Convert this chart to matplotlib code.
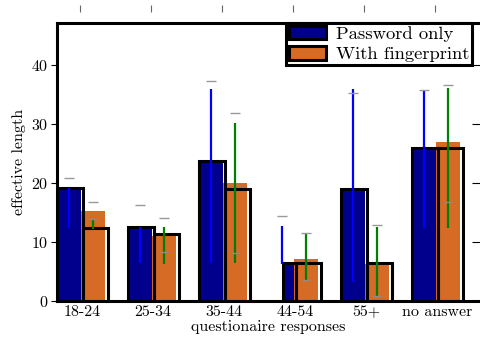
import numpy as np
import matplotlib
matplotlib.use('Agg')
import matplotlib.pyplot as plt
from matplotlib.patches import Patch
from matplotlib import markers

plt.rcParams['font.family'] = ['cmr10', 'DejaVu Serif']
plt.rcParams['axes.formatter.use_mathtext'] = True

# data
categories = ['18-24', '25-34', '35-44', '44-54', '55+', 'no answer']
pw_mean = [19.2, 12.5, 23.8, 6.3, 19.1, 26.0]
pw_median = [19.2, 12.5, 23.8, 6.4, 19.0, 26.0]
fp_mean = [15.3, 11.0, 20.0, 7.1, 6.2, 27.0]
fp_median = [12.4, 11.3, 19.0, 6.4, 6.4, 26.0]
pw_lo = [12.4, 6.4, 6.4, 6.3, 3.2, 12.4]
pw_hi = [19.2, 12.5, 35.9, 12.7, 35.9, 35.8]
pw_cap = [20.8, 16.2, 37.3, 14.4, 35.3, 35.8]
fp_lo = [12.2, 6.3, 6.4, 3.4, 0.7, 12.4]
fp_hi = [13.7, 12.5, 30.2, 11.4, 12.6, 36.1]
fp_cap = [16.8, 14.1, 31.8, 11.6, 12.8, 36.6]
fp_mark = [13.9, 8.3, 8.1, 3.6, 0.9, 16.8]

navy = '#00008c'
orange = '#d66b25'

x = np.arange(len(categories))
w_fill = 0.34
w_out = 0.36
# the blue bar of the 44-54 group is only half drawn
pw_frac = np.array([1, 1, 1, 0.5, 1, 1])

fig = plt.figure(figsize=(4.8, 3.4), dpi=100)
ax = fig.add_axes([57/480, 1 - 301/340, (480 - 57)/480, (301 - 23)/340])

ax.bar(x + w_fill*(1 - pw_frac), pw_mean, w_fill*pw_frac, align='edge',
       color=navy, zorder=1)
ax.bar(x + w_fill, fp_mean, w_fill, align='edge', color=orange, zorder=1)
ax.bar(x + w_out*(1 - pw_frac), pw_median, w_out*pw_frac, align='edge',
       facecolor='none', edgecolor='black', lw=2.2, zorder=2)
ax.bar(x + w_out, fp_median, w_out, align='edge',
       facecolor='none', edgecolor='black', lw=2.2, zorder=2)

xc1 = x + w_fill/2
xc2 = x + w_fill*1.5
ax.vlines(xc1, pw_lo, pw_hi, color='#0000ff', lw=1.6, zorder=3)
ax.vlines(xc2, fp_lo, fp_hi, color='#008000', lw=1.6, zorder=3)
ax.plot(xc1, pw_cap, ls='none', marker='_', ms=7, mew=1, color='0.6', zorder=3)
ax.plot(xc2, fp_cap, ls='none', marker='_', ms=7, mew=1, color='0.6', zorder=3)
ax.plot(xc2, fp_mark, ls='none', marker='_', ms=6, mew=1, color='0.55', zorder=4)

ax.set_xlim(0, (480 - 57)/71)
ax.set_ylim(0, 47.1)
ax.set_xticks(x + 0.35)
ax.set_xticklabels(categories, fontsize=11.5)
ax.set_yticks([0, 10, 20, 30, 40])
ax.tick_params(axis='y', labelsize=11.5, direction='out', length=4, width=0.8,
               right=True, pad=2)
ax.tick_params(axis='x', length=0, pad=3)
# right-hand ticks point inward, drawn faint
for t in ax.yaxis.get_major_ticks():
    t.tick2line.set_marker(markers.TICKLEFT)
    t.tick2line.set_markersize(6)
    t.tick2line.set_color('0.45')
ax.set_xlabel('questionaire responses', fontsize=11.5, labelpad=1)
ax.set_ylabel('effective length', fontsize=11.5, labelpad=4)

for side in ['left', 'bottom', 'top']:
    ax.spines[side].set_linewidth(2.2)
ax.spines['right'].set_visible(False)

sec = ax.secondary_xaxis(1.04)
sec.set_xticks(x + 0.33)
sec.set_xticklabels([])
sec.tick_params(direction='out', length=5, width=0.8, color='0.4')
for s in sec.spines.values():
    s.set_visible(False)

handles = [(Patch(facecolor=navy, edgecolor='none'),
            Patch(facecolor='none', edgecolor='black', lw=2.2)),
           (Patch(facecolor=orange, edgecolor='none'),
            Patch(facecolor='none', edgecolor='black', lw=2.2))]
leg = ax.legend(handles, ['Password only', 'With fingerprint'],
                loc='upper right', bbox_to_anchor=(0.981, 1.0),
                borderaxespad=0, fontsize=13.4, fancybox=False,
                borderpad=0.15, handlelength=2.0, handletextpad=0.5,
                labelspacing=0.25, framealpha=1)
leg.get_frame().set_edgecolor('black')
leg.get_frame().set_linewidth(2.2)

fig.savefig('out.png', dpi=100)
